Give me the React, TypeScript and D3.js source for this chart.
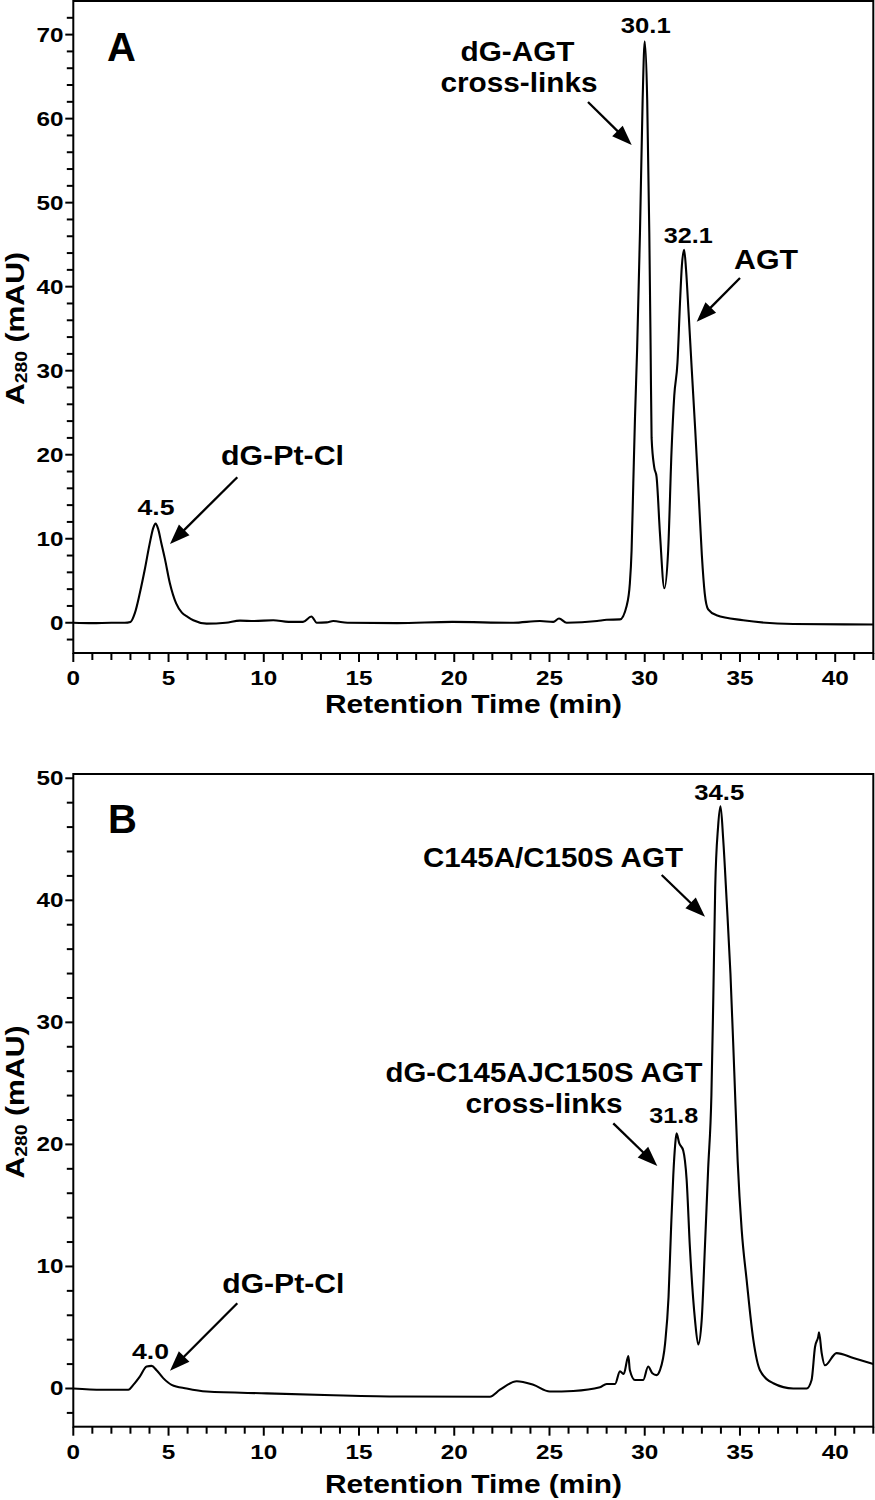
import React from "react";
import * as d3 from "d3";

// ---------- data ----------
const timeA = [0, 1, 2, 2.7, 3.0, 3.24, 3.5, 3.75, 4.0, 4.2, 4.32, 4.45, 4.62, 4.81, 5.07, 5.4, 5.7, 6.0, 6.3, 7.0, 8.0, 8.75, 9.5, 10.5, 11.3, 12.06, 12.5, 12.78, 13.3, 13.65, 14.4, 17, 19.9, 23.1, 24.5, 25.2, 25.5, 25.9, 27.5, 28.0, 28.7, 29.05, 29.22, 29.31, 29.4, 29.49, 29.6, 29.75, 29.89, 30.0, 30.13, 30.24, 30.31, 30.36, 30.5, 30.62, 30.8, 31.03, 31.23, 31.41, 31.55, 31.72, 31.85, 31.95, 32.07, 32.17, 32.3, 32.46, 32.65, 32.85, 33.0, 33.15, 33.33, 33.77, 35.17, 37.8, 42];
const absA = [0, -0.05, 0, 0, 0.1, 1.2, 3.6, 6.3, 9.3, 11.3, 11.8, 11.2, 9.5, 7.6, 4.7, 2.3, 1.2, 0.7, 0.3, -0.1, 0, 0.25, 0.2, 0.3, 0.1, 0.1, 0.75, 0, 0.05, 0.2, 0, -0.05, 0.1, 0, 0.2, 0.1, 0.5, 0, 0.2, 0.35, 0.4, 2.0, 4.7, 8.6, 16.6, 24.5, 32.5, 46.4, 62.2, 69.2, 62.2, 46.4, 32.5, 22, 18.5, 17.4, 10.6, 4.1, 8.6, 20.6, 27, 31, 38, 42.5, 44.4, 42, 37, 30.5, 23, 14.5, 8, 3.5, 1.6, 0.9, 0.3, -0.15, -0.2];

const timeB = [0, 1.5, 2.89, 3.15, 3.5, 3.85, 4.11, 4.37, 4.72, 5.16, 5.95, 7.0, 10.15, 13.65, 17.15, 21.87, 22.4, 23.28, 24.15, 25.02, 26.25, 27.65, 28.0, 28.44, 28.7, 28.9, 29.14, 29.22, 29.49, 29.92, 30.18, 30.4, 30.62, 30.8, 31.07, 31.25, 31.38, 31.5, 31.6, 31.67, 31.81, 32.02, 32.2, 32.37, 32.64, 32.81, 32.99, 33.16, 33.33, 33.5, 33.6, 33.7, 33.85, 33.98, 34.12, 34.3, 34.5, 34.7, 34.88, 35.09, 35.35, 35.7, 36.05, 36.75, 37.8, 38.5, 38.76, 38.94, 39.11, 39.15, 39.29, 39.46, 40.07, 40.95, 42];
const absB = [0, -0.1, -0.1, 0.3, 1.0, 1.8, 1.85, 1.5, 0.85, 0.3, 0, -0.25, -0.4, -0.55, -0.65, -0.67, -0.1, 0.6, 0.3, -0.25, -0.2, 0.1, 0.37, 0.37, 1.4, 1.2, 2.65, 1.5, 0.7, 0.7, 1.8, 1.25, 1.1, 1.5, 3.7, 7.5, 13, 17.5, 20, 20.9, 20.1, 19.5, 17.1, 11.6, 5.6, 3.6, 5.6, 11.6, 18, 24, 32, 41, 46, 47.7, 45, 40, 34, 26, 18.6, 13, 8.9, 4, 1.5, 0.43, 0, 0, 0.7, 3.4, 4.25, 4.6, 2.9, 1.9, 2.9, 2.5, 2.0];

const xMajorTicks = [0, 5, 10, 15, 20, 25, 30, 35, 40];
const yMajorTicksA = [0, 10, 20, 30, 40, 50, 60, 70];
const yMajorTicksB = [0, 10, 20, 30, 40, 50];
const xDomain = [0, 42];
const yDomainA = [-3.6, 74];
const yDomainB = [-3.13, 50.35];

const peakLabelsA = ["4.5", "30.1", "32.1"];
const peakLabelsB = ["4.0", "31.8", "34.5"];
const panelLetters = ["A", "B"];
const xTitle = "Retention Time (min)";

// ---------- helpers ----------
const FONT = "'Liberation Sans', Arial, Helvetica, sans-serif";

function Label({ x, y, w, size, text, anchor = "middle" }: any) {
  return (
    <text
      x={x}
      y={y}
      fontSize={size}
      fontWeight="bold"
      fontFamily={FONT}
      textAnchor={anchor}
      textLength={w}
      lengthAdjust="spacingAndGlyphs"
      fill="#000"
    >
      {text}
    </text>
  );
}

function Arrow({ x1, y1, x2, y2 }: any) {
  const dx = x2 - x1, dy = y2 - y1;
  const len = Math.sqrt(dx * dx + dy * dy);
  const ux = dx / len, uy = dy / len;
  const hl = 20, hw = 7.5;
  const bx = x2 - ux * hl, by = y2 - uy * hl;
  const px = -uy, py = ux;
  const pts = [
    [x2, y2],
    [bx + px * hw, by + py * hw],
    [bx - px * hw, by - py * hw],
  ];
  return (
    <g>
      <line x1={x1} y1={y1} x2={bx + ux * 2} y2={by + uy * 2} stroke="#000" strokeWidth={2.3} />
      <polygon points={pts.map((p) => p.join(",")).join(" ")} fill="#000" />
    </g>
  );
}

function Panel({ top, bottom, yDomain, yMajor, times, values, children }: any) {
  const left = 73.3, right = 873.3;
  const x = d3.scaleLinear().domain(xDomain).range([left, right]);
  const y = d3.scaleLinear().domain(yDomain).range([bottom, top]);
  const pts: [number, number][] = times.map((t: number, i: number) => [t, values[i]]);
  const line = d3
    .line<[number, number]>()
    .x((d) => x(d[0]))
    .y((d) => y(d[1]))
    .curve(d3.curveMonotoneX);
  const xMinor = d3.range(0, 43, 1).filter((v) => !xMajorTicks.includes(v));
  const yMinor = d3.range(-2, yDomain[1], 2).filter((v) => !yMajor.includes(v));
  return (
    <g>
      <path d={line(pts) || ""} fill="none" stroke="#000" strokeWidth={2.1} strokeLinejoin="round" />
      <rect x={left} y={top} width={right - left} height={bottom - top} fill="none" stroke="#000" strokeWidth={2} />
      {xMajorTicks.map((t) => (
        <g key={"xm" + t}>
          <line x1={x(t)} x2={x(t)} y1={bottom} y2={bottom + 9} stroke="#000" strokeWidth={2} />
          <Label x={x(t)} y={bottom + 32} size={20} w={13.5 * String(t).length} text={String(t)} />
        </g>
      ))}
      {xMinor.map((t) => (
        <line key={"xn" + t} x1={x(t)} x2={x(t)} y1={bottom} y2={bottom + 7} stroke="#000" strokeWidth={2} />
      ))}
      {yMajor.map((v: number) => (
        <g key={"ym" + v}>
          <line x1={left - 8} x2={left} y1={y(v)} y2={y(v)} stroke="#000" strokeWidth={2} />
          <Label x={63.5} y={y(v) + 7} size={20} w={13.5 * String(v).length} text={String(v)} anchor="end" />
        </g>
      ))}
      {yMinor.map((v: number) => (
        <line key={"yn" + v} x1={left - 6.5} x2={left} y1={y(v)} y2={y(v)} stroke="#000" strokeWidth={2} />
      ))}
      {children}
    </g>
  );
}

function YTitle({ cy }: any) {
  return (
    <text
      transform={`translate(24,${cy}) rotate(-90)`}
      fontFamily={FONT}
      fontWeight="bold"
      fontSize={25}
      textAnchor="middle"
      textLength={153}
      lengthAdjust="spacingAndGlyphs"
    >
      A
      <tspan fontSize={16} dy={3}>280</tspan>
      <tspan dy={-3}> (mAU)</tspan>
    </text>
  );
}

export default function App() {
  return (
    <div style={{ position: "absolute", left: 0, top: 0, background: "#fff" }}>
      <svg width={875} height={1500} viewBox="0 0 875 1500" style={{ display: "block" }}>
        <rect x={0} y={0} width={875} height={1500} fill="#fff" />
        {/* Panel A */}
        <Panel top={1} bottom={653} yDomain={yDomainA} yMajor={yMajorTicksA} times={timeA} values={absA}>
          <text x={107} y={61} fontSize={40} fontWeight="bold" fontFamily={FONT}>{panelLetters[0]}</text>
          <Label x={156} y={515} size={22} w={37} text={peakLabelsA[0]} />
          <Label x={645.8} y={33} size={22} w={50} text={peakLabelsA[1]} />
          <Label x={688.3} y={243} size={22} w={49} text={peakLabelsA[2]} />
          <Label x={282.5} y={465} size={27} w={123} text="dG-Pt-Cl" />
          <Label x={517.5} y={61} size={27} w={114} text="dG-AGT" />
          <Label x={519} y={92} size={27} w={157} text="cross-links" />
          <Label x={766} y={269} size={27} w={64} text="AGT" />
          <Arrow x1={237.3} y1={477.3} x2={170} y2={544} />
          <Arrow x1={588} y1={102} x2={631.7} y2={145} />
          <Arrow x1={740} y1={278} x2={696.7} y2={321.7} />
        </Panel>
        <Label x={473.5} y={713} size={26} w={297} text={xTitle} />
        <YTitle cy={328.5} />

        {/* Panel B */}
        <Panel top={774} bottom={1426.7} yDomain={yDomainB} yMajor={yMajorTicksB} times={timeB} values={absB}>
          <text x={108} y={833} fontSize={40} fontWeight="bold" fontFamily={FONT}>{panelLetters[1]}</text>
          <Label x={150.5} y={1359.3} size={22} w={37} text={peakLabelsB[0]} />
          <Label x={673.7} y={1123.3} size={22} w={49} text={peakLabelsB[1]} />
          <Label x={719.2} y={800} size={22} w={50} text={peakLabelsB[2]} />
          <Label x={283.3} y={1292.7} size={27} w={122} text="dG-Pt-Cl" />
          <Label x={553} y={867} size={27} w={260} text="C145A/C150S AGT" />
          <Label x={544} y={1082} size={27} w={317} text="dG-C145AJC150S AGT" />
          <Label x={544} y={1113.3} size={27} w={157} text="cross-links" />
          <Arrow x1={237.3} y1={1303.3} x2={170} y2={1370.7} />
          <Arrow x1={661.7} y1={875} x2={705} y2={916.7} />
          <Arrow x1={613.3} y1={1123.3} x2={657.3} y2={1166} />
        </Panel>
        <Label x={473.5} y={1493} size={26} w={297} text={xTitle} />
        <YTitle cy={1102} />
      </svg>
    </div>
  );
}
